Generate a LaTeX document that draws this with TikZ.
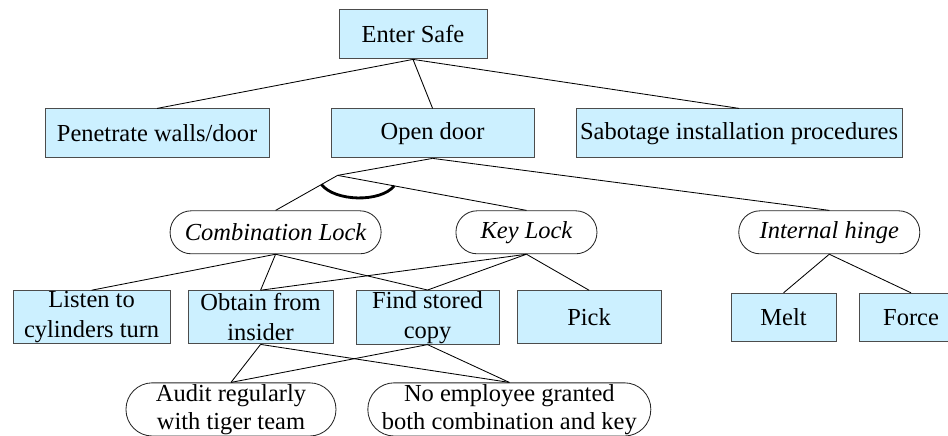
\documentclass[tikz,border=0pt]{standalone}
\usepackage{fontspec}
\setmainfont{Liberation Serif}
\usepackage{tikz}
\usetikzlibrary{positioning, calc}
\definecolor{boxblue}{RGB}{204,240,255}

\begin{document}
\begin{tikzpicture}[auto,
        box/.style={draw=black!70, rectangle, fill=boxblue, line width=0.7pt, minimum height=1.225cm, inner sep=0.5pt, align=center, font=\fontsize{17.4}{21.3}\selectfont},
        twobox/.style={box, minimum height=1.33cm},
        oval/.style={draw=black!85, rectangle, rounded corners=0.53cm, line width=0.6pt, minimum height=1.075cm, inner sep=0.5pt, align=center, font=\fontsize{17.4}{21.3}\selectfont\itshape},
        note/.style={oval, rounded corners=0.66cm, minimum height=1.33cm, font=\fontsize{17.4}{20}\selectfont},
        link/.style={line width=0.6pt},
        andarc/.style={line width=2pt}
    ]
        \useasboundingbox (0,0) rectangle (23.7,-10.875);

        % Top of the tree
        \node[box, minimum width=3.7cm] (safe) at (10.325,-0.86) {Enter Safe};
        \node[box, minimum width=5.075cm, below=1.225cm of safe, xshift=0.49cm] (door) {Open door};
        \node[box, minimum width=5.6cm, left=1.525cm of door] (walls) {Penetrate walls/door};
        \node[box, minimum width=8.15cm, right=1.025cm of door] (sabotage) {Sabotage installation procedures};

        % Lock types
        \node[oval, minimum width=5.275cm, below=1.3cm of door, xshift=-3.925cm] (comb) {Combination Lock};
        \node[oval, minimum width=3.525cm, right=1.85cm of comb] (key) {Key Lock};
        \node[oval, minimum width=4.525cm, right=3.525cm of key] (hinge) {Internal hinge};
        \coordinate (and) at ($(door.south)+(-2.375,-0.425)$);

        % Attacks
        \node[twobox, minimum width=3.925cm, below=0.9cm of comb, xshift=-4.6cm] (listen) {Listen to\\cylinders turn};
        \node[twobox, minimum width=3.625cm, right=0.425cm of listen] (obtain) {Obtain from\\insider};
        \node[twobox, minimum width=3.575cm, right=0.55cm of obtain] (find) {Find stored\\copy};
        \node[twobox, minimum width=3.6cm, right=0.425cm of find] (pick) {Pick};
        \node[box, minimum width=2.625cm, minimum height=1.2cm, right=1.725cm of pick] (melt) {Melt};
        \node[box, minimum width=2.6cm, minimum height=1.2cm, right=0.55cm of melt] (force) {Force};

        % Countermeasures
        \node[note, minimum width=5.25cm, below=0.95cm of obtain, xshift=-0.74cm] (audit) {Audit regularly\\with tiger team};
        \node[note, minimum width=7.075cm, right=0.775cm of audit] (noemp) {No employee granted\\both combination and key};

        % Connections
        \draw[link] (safe.south) -- (walls.north);
        \draw[link] (safe.south) -- (door.north);
        \draw[link] (safe.south) -- (sabotage.north);
        \draw[link] (door.south) -- (and);
        \draw[link] (and) -- (comb.north);
        \draw[link] (and) -- (key.north);
        \draw[link] (door.south) -- (hinge.north);
        \draw[link] (comb.south) -- (listen.north);
        \draw[link] (comb.south) -- (obtain.north);
        \draw[link] (comb.south) -- (find.north);
        \draw[link] (key.south) -- (obtain.north);
        \draw[link] (key.south) -- (find.north);
        \draw[link] (key.south) -- (pick.north);
        \draw[link] (hinge.south) -- (melt.north);
        \draw[link] (hinge.south) -- (force.north);
        \draw[link] (obtain.south) -- (audit.north);
        \draw[link] (obtain.south) -- (noemp.north);
        \draw[link] (find.south) -- (audit.north);
        \draw[link] (find.south) -- (noemp.north);

        % AND arc
        \draw[andarc] ($(and)!0.26!(comb.north)$) .. controls +(0.325,-0.425) and +(-0.35,-0.425) .. ($(and)!0.3!(key.north)$);
    \end{tikzpicture}
\end{document}
